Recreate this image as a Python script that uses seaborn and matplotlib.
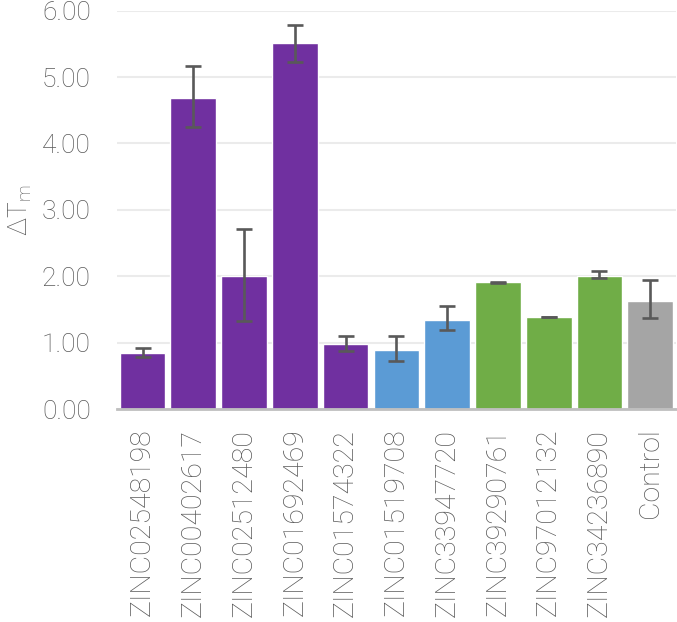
import matplotlib
matplotlib.use('Agg')
import matplotlib.pyplot as plt
import seaborn as sns
import numpy as np

compounds = ["ZINC02548198", "ZINC00402617", "ZINC02512480", "ZINC01692469",
             "ZINC01574322", "ZINC01519708", "ZINC33947720", "ZINC39290761",
             "ZINC97012132", "ZINC34236890", "Control"]
delta_tm = [0.84, 4.68, 2.00, 5.51, 0.98, 0.89, 1.35, 1.91, 1.39, 2.00, 1.63]
err_low = [0.78, 4.25, 1.33, 5.23, 0.87, 0.73, 1.19, 1.90, 1.385, 1.98, 1.38]
err_high = [0.92, 5.17, 2.72, 5.78, 1.10, 1.10, 1.56, 1.92, 1.395, 2.08, 1.94]
bar_colors = ["#7030A0"] * 5 + ["#5B9BD5"] * 2 + ["#70AD47"] * 3 + ["#A5A5A5"]

sns.set_style("white")
plt.rcParams['font.family'] = ['Roboto', 'DejaVu Sans']
text_col = "#595959"

fig = plt.figure(figsize=(6.77, 6.22), dpi=100)
ax = fig.add_axes([0.173, 0.342, 0.825, 0.641])

sns.barplot(x=compounds, y=delta_tm, hue=compounds, palette=bar_colors,
            legend=False, width=0.9, saturation=1, ax=ax)

vals = np.array(delta_tm)
yerr = [vals - np.array(err_low), np.array(err_high) - vals]
ax.errorbar(np.arange(len(compounds)), vals, yerr=yerr, fmt='none',
            ecolor="#595959", elinewidth=1.9, capsize=5.5, capthick=1.9, zorder=5)

ax.set_ylim(0, 6)
ax.set_xlim(-0.5, len(compounds) - 0.5)
ax.set_yticks(range(7))
ax.set_yticklabels([f"{v:.2f}" for v in range(7)])
ax.yaxis.grid(True, color="#EBEBEB", linewidth=1.5)
ax.set_axisbelow(True)

for s in ["top", "right", "left"]:
    ax.spines[s].set_visible(False)
ax.spines["bottom"].set_color("#BFBFBF")
ax.spines["bottom"].set_linewidth(2)
ax.spines["bottom"].set_zorder(6)

ax.tick_params(axis='y', length=0, pad=19, labelsize=19, labelcolor=text_col)
ax.tick_params(axis='x', length=0, pad=14, labelsize=20.5, labelcolor=text_col,
               labelrotation=90)
for lbl in ax.get_xticklabels() + ax.get_yticklabels():
    lbl.set_fontweight('light')

ax.set_ylabel(r"$\mathregular{\Delta T_m}$", fontsize=19, color=text_col,
              fontweight='light', labelpad=6)
ax.set_xlabel("")

fig.savefig("out.png", dpi=100)
plt.close(fig)
